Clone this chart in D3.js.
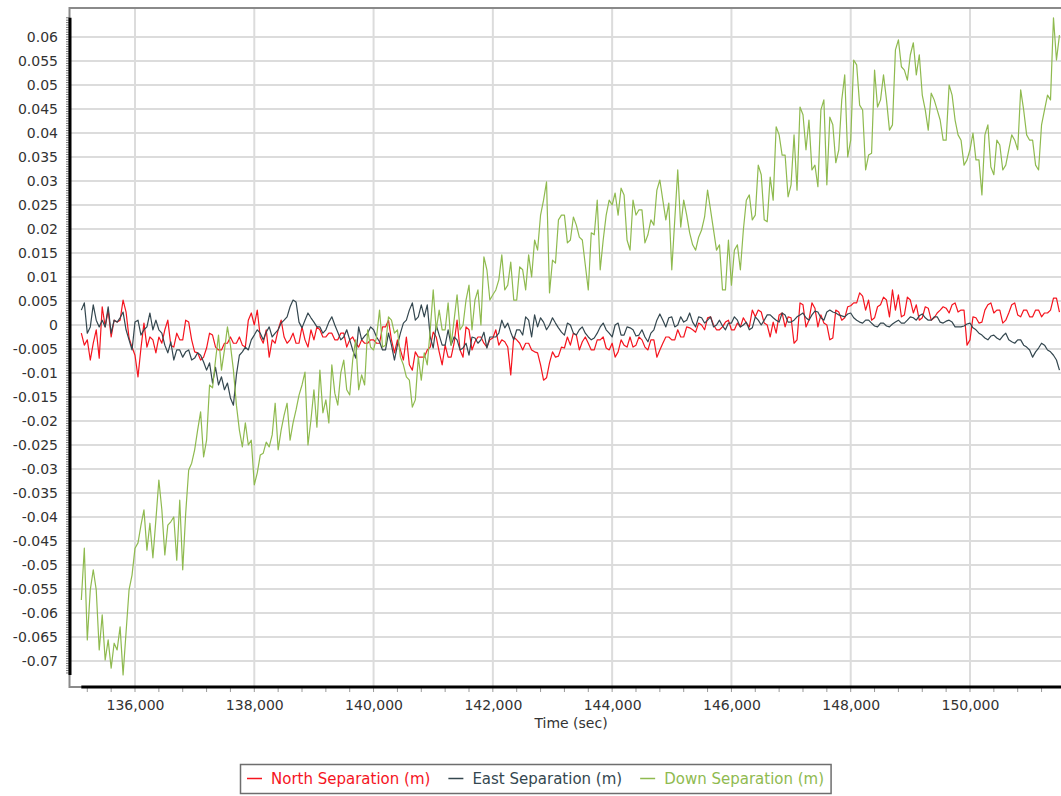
<!DOCTYPE html>
<html>
<head>
<meta charset="utf-8">
<script src="https://cdn.jsdelivr.net/npm/d3@7"></script>
<style>
body { margin: 0; background: #fff; }
svg { display: block; font-family: "DejaVu Sans", Verdana, sans-serif; }
</style>
</head>
<body>
<svg width="1061" height="796"></svg>
<script>
// samples on the hundreds (135,100 .. 151,500) and on the fifties (135,150 .. 151,450)
var startTime = 135100,
    stepTime = 100;

var northSep = [
    -0.0017,-0.0031,-0.0038,-0.0069,-0.0004,-0.0025,0.0006,0.0052,-0.0027,-0.0063,
    -0.0048,-0.0046,-0.0031,-0.0025,-0.0010,-0.0042,-0.0017,-0.0031,0.0006,-0.0056,
    -0.0073,-0.0048,-0.0021,-0.0052,-0.0038,-0.0025,-0.0038,-0.0042,0.0010,0.0000,
    -0.0025,-0.0010,-0.0031,-0.0010,-0.0025,-0.0031,-0.0038,-0.0004,-0.0046,-0.0031,
    -0.0010,-0.0025,-0.0017,-0.0031,-0.0017,-0.0031,-0.0038,-0.0031,-0.0038,-0.0031,
    -0.0038,-0.0004,-0.0031,-0.0031,-0.0073,-0.0083,-0.0056,-0.0067,-0.0052,-0.0015,
    -0.0056,-0.0042,-0.0067,0.0010,-0.0067,-0.0010,-0.0035,-0.0025,-0.0046,-0.0027,
    -0.0042,-0.0035,-0.0104,-0.0031,-0.0052,-0.0038,-0.0056,-0.0083,-0.0110,-0.0056,
    -0.0065,-0.0048,-0.0042,-0.0021,-0.0035,-0.0038,-0.0052,-0.0031,-0.0048,-0.0038,
    -0.0056,-0.0042,-0.0025,-0.0042,-0.0031,-0.0052,-0.0031,-0.0052,-0.0025,-0.0031,
    -0.0010,-0.0025,-0.0006,-0.0015,0.0000,0.0015,0.0000,-0.0010,0.0006,-0.0010,
    0.0004,0.0015,-0.0004,0.0017,0.0027,0.0000,0.0006,0.0021,-0.0004,0.0015,
    -0.0031,0.0042,0.0010,0.0035,0.0021,0.0000,-0.0027,0.0027,0.0015,0.0040,
    0.0046,0.0060,0.0052,0.0015,0.0042,0.0052,0.0073,0.0063,0.0021,0.0052,
    0.0042,0.0015,0.0035,0.0015,0.0031,0.0035,0.0042,0.0027,0.0031,-0.0031,
    0.0015,0.0006,0.0042,0.0025,0.0031,0.0010,0.0042,0.0021,0.0031,0.0017,
    0.0031,0.0017,0.0025,0.0056,0.0027
];
var northSepMid = [
    -0.0042,-0.0073,-0.0010,0.0038,0.0031,0.0010,0.0010,0.0027,-0.0046,-0.0108,
    0.0004,-0.0025,-0.0058,-0.0038,0.0010,-0.0046,-0.0031,0.0010,-0.0031,-0.0058,
    -0.0067,-0.0017,-0.0046,-0.0052,-0.0038,-0.0038,-0.0025,-0.0046,0.0025,0.0031,
    -0.0038,-0.0067,-0.0038,0.0010,-0.0038,-0.0017,-0.0038,-0.0031,-0.0010,-0.0004,
    -0.0025,-0.0017,-0.0031,-0.0017,-0.0046,-0.0025,-0.0046,-0.0038,-0.0031,-0.0038,
    -0.0004,0.0010,-0.0058,-0.0052,-0.0025,-0.0094,-0.0067,-0.0067,-0.0046,-0.0025,
    -0.0083,-0.0067,-0.0038,-0.0052,-0.0004,-0.0052,-0.0025,-0.0038,-0.0031,-0.0010,
    -0.0031,-0.0046,-0.0025,-0.0038,-0.0038,-0.0052,-0.0058,-0.0115,-0.0079,-0.0067,
    -0.0046,-0.0025,-0.0017,-0.0052,-0.0025,-0.0052,-0.0031,-0.0025,-0.0052,-0.0067,
    -0.0031,-0.0046,-0.0046,-0.0025,-0.0046,-0.0031,-0.0067,-0.0038,-0.0025,-0.0031,
    -0.0025,-0.0004,-0.0010,0.0004,-0.0010,0.0017,-0.0010,-0.0004,0.0010,-0.0010,
    -0.0004,0.0004,0.0031,0.0031,0.0004,-0.0025,-0.0017,0.0025,0.0017,-0.0038,
    0.0046,-0.0004,0.0046,-0.0004,0.0004,-0.0031,0.0031,0.0010,0.0038,0.0046,
    0.0067,0.0031,0.0010,0.0038,0.0058,0.0017,0.0031,0.0017,0.0058,0.0025,
    0.0010,0.0038,0.0010,0.0025,0.0038,0.0025,0.0046,0.0031,-0.0042,0.0017,
    0.0004,0.0031,0.0046,0.0031,0.0004,0.0025,0.0046,0.0017,0.0031,0.0017,
    0.0031,0.0025,0.0031,0.0056
];

var eastSep = [
    0.0031,-0.0017,0.0042,-0.0004,-0.0004,-0.0017,0.0006,0.0027,-0.0031,0.0006,
    -0.0021,-0.0004,-0.0010,-0.0010,-0.0042,-0.0035,-0.0052,-0.0067,-0.0052,-0.0069,
    -0.0063,-0.0094,-0.0121,-0.0125,-0.0135,-0.0152,-0.0104,-0.0056,-0.0052,-0.0021,
    -0.0017,-0.0015,-0.0025,-0.0010,0.0010,0.0038,0.0048,-0.0006,0.0025,0.0006,
    -0.0004,-0.0010,0.0017,-0.0015,-0.0025,-0.0031,-0.0069,-0.0031,-0.0017,-0.0010,
    -0.0035,-0.0052,-0.0042,-0.0042,0.0004,0.0031,0.0010,0.0042,0.0042,-0.0048,
    -0.0021,-0.0042,-0.0042,-0.0031,-0.0048,-0.0063,-0.0027,-0.0031,-0.0048,-0.0025,
    -0.0017,-0.0006,-0.0015,-0.0010,-0.0021,0.0010,0.0021,0.0015,-0.0010,0.0015,
    -0.0006,-0.0021,0.0000,-0.0021,-0.0004,-0.0025,-0.0027,-0.0004,-0.0010,-0.0025,
    0.0004,-0.0021,-0.0006,-0.0023,-0.0010,-0.0035,-0.0010,0.0023,-0.0004,0.0017,
    0.0000,0.0006,0.0025,-0.0004,0.0015,0.0010,-0.0004,0.0010,-0.0010,0.0004,
    0.0010,0.0000,-0.0010,0.0017,0.0000,0.0021,0.0015,0.0006,0.0021,0.0006,
    0.0017,0.0025,0.0010,0.0029,0.0015,0.0027,0.0027,0.0021,0.0017,0.0025,
    0.0010,0.0004,0.0010,-0.0002,0.0004,-0.0002,0.0002,0.0010,0.0004,0.0017,
    0.0010,0.0023,0.0010,0.0017,0.0006,0.0008,0.0006,-0.0004,-0.0002,0.0004,
    -0.0010,-0.0021,-0.0031,-0.0021,-0.0031,-0.0017,-0.0035,-0.0031,-0.0042,-0.0052,
    -0.0056,-0.0038,-0.0052,-0.0063,-0.0094
];
var eastSepMid = [
    0.0046,-0.0004,0.0010,0.0010,0.0038,0.0010,0.0015,-0.0010,-0.0052,0.0010,
    -0.0010,0.0025,0.0010,-0.0017,-0.0058,-0.0073,-0.0052,-0.0056,-0.0073,-0.0058,
    -0.0077,-0.0079,-0.0088,-0.0108,-0.0121,-0.0167,-0.0063,-0.0046,-0.0031,-0.0010,
    -0.0031,-0.0004,-0.0017,0.0004,0.0017,0.0052,0.0006,0.0010,0.0015,-0.0004,
    -0.0017,0.0006,0.0000,-0.0031,-0.0010,-0.0052,-0.0004,-0.0023,-0.0004,-0.0025,
    -0.0052,-0.0017,-0.0073,-0.0017,0.0010,0.0046,0.0017,0.0017,-0.0025,0.0000,
    -0.0042,-0.0010,-0.0025,-0.0052,-0.0038,-0.0025,-0.0038,-0.0015,-0.0025,-0.0025,
    0.0010,0.0004,-0.0031,-0.0010,0.0017,-0.0025,-0.0004,0.0006,0.0000,0.0004,
    -0.0015,0.0004,-0.0017,-0.0010,-0.0017,-0.0031,-0.0017,0.0004,-0.0017,0.0000,
    -0.0021,-0.0004,-0.0010,-0.0021,-0.0025,-0.0017,0.0010,0.0010,0.0015,-0.0004,
    0.0017,0.0010,0.0006,0.0017,0.0004,0.0017,0.0000,-0.0002,0.0004,0.0017,
    -0.0004,0.0006,-0.0006,0.0010,0.0010,0.0021,0.0010,0.0025,0.0006,0.0010,
    0.0021,0.0015,0.0021,0.0027,0.0010,0.0031,0.0025,0.0019,0.0023,0.0015,
    0.0006,0.0010,0.0004,-0.0004,0.0004,-0.0004,0.0006,0.0004,0.0010,0.0015,
    0.0019,0.0015,0.0010,0.0017,0.0004,0.0010,-0.0004,-0.0004,0.0002,-0.0006,
    -0.0017,-0.0027,-0.0023,-0.0027,-0.0023,-0.0031,-0.0038,-0.0031,-0.0046,-0.0067,
    -0.0048,-0.0042,-0.0056,-0.0073
];

var downSep = [
    -0.0573,-0.0656,-0.0510,-0.0677,-0.0698,-0.0715,-0.0677,-0.0729,-0.0552,-0.0465,
    -0.0417,-0.0469,-0.0485,-0.0323,-0.0479,-0.0410,-0.0490,-0.0510,-0.0302,-0.0260,
    -0.0181,-0.0240,-0.0131,-0.0021,-0.0052,-0.0042,-0.0167,-0.0254,-0.0250,-0.0333,
    -0.0271,-0.0244,-0.0229,-0.0260,-0.0188,-0.0240,-0.0177,-0.0125,-0.0250,-0.0135,
    -0.0094,-0.0156,-0.0083,-0.0167,-0.0073,-0.0146,-0.0031,-0.0104,-0.0010,-0.0052,
    0.0031,-0.0042,0.0010,-0.0010,-0.0083,-0.0115,-0.0156,-0.0115,-0.0083,0.0073,
    0.0031,-0.0010,-0.0042,0.0063,0.0000,0.0083,0.0052,0.0000,0.0115,0.0063,
    0.0094,0.0073,0.0131,0.0052,0.0115,0.0146,0.0177,0.0229,0.0298,0.0135,
    0.0219,0.0229,0.0177,0.0208,0.0177,0.0073,0.0188,0.0115,0.0229,0.0250,
    0.0229,0.0271,0.0156,0.0229,0.0240,0.0188,0.0208,0.0302,0.0219,0.0115,
    0.0323,0.0260,0.0192,0.0156,0.0198,0.0281,0.0198,0.0167,0.0073,0.0083,
    0.0167,0.0198,0.0271,0.0229,0.0313,0.0215,0.0260,0.0396,0.0354,0.0292,
    0.0281,0.0438,0.0427,0.0333,0.0448,0.0292,0.0417,0.0365,0.0521,0.0385,
    0.0542,0.0448,0.0354,0.0531,0.0469,0.0469,0.0417,0.0594,0.0531,0.0563,
    0.0521,0.0479,0.0406,0.0469,0.0427,0.0385,0.0479,0.0396,0.0333,0.0365,
    0.0344,0.0271,0.0417,0.0313,0.0375,0.0333,0.0396,0.0365,0.0448,0.0385,
    0.0333,0.0417,0.0479,0.0640,0.0604
];
var downSepMid = [
    -0.0465,-0.0552,-0.0552,-0.0604,-0.0656,-0.0663,-0.0629,-0.0640,-0.0521,-0.0454,
    -0.0385,-0.0413,-0.0406,-0.0385,-0.0417,-0.0400,-0.0365,-0.0392,-0.0288,-0.0219,
    -0.0275,-0.0125,-0.0073,-0.0094,-0.0004,-0.0094,-0.0219,-0.0204,-0.0240,-0.0308,
    -0.0267,-0.0254,-0.0163,-0.0219,-0.0163,-0.0204,-0.0146,-0.0098,-0.0198,-0.0213,
    -0.0183,-0.0204,-0.0142,-0.0100,-0.0135,-0.0073,-0.0135,-0.0125,-0.0046,-0.0025,
    -0.0046,0.0017,-0.0017,-0.0067,-0.0108,-0.0171,-0.0067,-0.0058,-0.0010,-0.0010,
    -0.0010,0.0046,0.0010,-0.0010,0.0052,-0.0010,0.0073,0.0142,0.0052,0.0073,
    0.0146,0.0083,0.0052,0.0121,0.0073,0.0100,0.0156,0.0260,0.0067,0.0129,
    0.0229,0.0171,0.0225,0.0183,0.0125,0.0192,0.0260,0.0177,0.0260,0.0275,
    0.0285,0.0177,0.0260,0.0240,0.0171,0.0219,0.0281,0.0260,0.0254,0.0219,
    0.0204,0.0229,0.0167,0.0183,0.0225,0.0240,0.0156,0.0073,0.0177,0.0156,
    0.0115,0.0260,0.0219,0.0333,0.0219,0.0308,0.0413,0.0354,0.0267,0.0396,
    0.0454,0.0365,0.0323,0.0288,0.0469,0.0433,0.0338,0.0469,0.0350,0.0552,
    0.0458,0.0323,0.0358,0.0454,0.0521,0.0406,0.0573,0.0538,0.0510,0.0588,
    0.0563,0.0448,0.0483,0.0448,0.0385,0.0500,0.0427,0.0385,0.0344,0.0400,
    0.0344,0.0396,0.0329,0.0385,0.0323,0.0365,0.0385,0.0490,0.0396,0.0385,
    0.0323,0.0448,0.0469,0.0552
];

var seriesNames = ["North Separation (m)", "East Separation (m)", "Down Separation (m)"];
var seriesColors = ["#f5141e", "#34474f", "#8fba4f"];
var seriesValues = [[northSep, northSepMid], [eastSep, eastSepMid], [downSep, downSepMid]];

var xMajorTicks = d3.range(136000, 150001, 2000);
var xMinorTicks = d3.range(135200, 151600, 400);
var yMajorTicks = d3.range(-14, 13).map(function(k) { return +(k * 0.005).toFixed(3); });
var yMinorTicks = d3.range(-150, 132).map(function(k) { return k * 0.0005; });

var svg = d3.select("svg"),
    plotLeft = 70, plotTop = 8, plotRight = 1061, plotBottom = 687;

var x = d3.scaleLinear().domain([134910, 151526]).range([plotLeft, plotRight]);
var y = d3.scaleLinear().domain([-0.07542, 0.06604]).range([plotBottom, plotTop]);

// put the two sample sets of a series together in time order
function toPoints(pair) {
    var a = pair[0].map(function(v, i) { return [startTime + i * stepTime, v]; });
    var b = pair[1].map(function(v, i) { return [startTime + stepTime / 2 + i * stepTime, v]; });
    return a.concat(b).sort(function(p, q) { return p[0] - q[0]; });
}
var seriesPoints = seriesValues.map(toPoints);

svg.append("defs").append("clipPath")
    .attr("id", "plotclip")
    .append("rect")
    .attr("x", plotLeft).attr("y", plotTop)
    .attr("width", plotRight - plotLeft).attr("height", plotBottom - plotTop);

// grid
var grid = svg.append("g").attr("class", "grid");
grid.selectAll("line.h")
    .data(yMajorTicks)
    .enter().append("line")
    .attr("x1", plotLeft).attr("x2", plotRight)
    .attr("y1", function(d) { return y(d); })
    .attr("y2", function(d) { return y(d); })
    .style("stroke", "#dcdcdc")
    .style("stroke-width", 2);
grid.selectAll("line.v")
    .data(xMajorTicks)
    .enter().append("line")
    .attr("x1", function(d) { return x(d); })
    .attr("x2", function(d) { return x(d); })
    .attr("y1", plotTop).attr("y2", plotBottom)
    .style("stroke", "#dcdcdc")
    .style("stroke-width", 2);

// frame
svg.append("path")
    .attr("d", "M" + plotRight + "," + plotTop + "H" + (plotLeft - 0.5) + "V" + plotBottom + "H" + plotRight)
    .style("fill", "none")
    .style("stroke", "#8a8a8a")
    .style("stroke-width", 2);

// data lines
var line = d3.line()
    .x(function(d) { return x(d[0]); })
    .y(function(d) { return y(d[1]); });

var lines = svg.append("g").attr("clip-path", "url(#plotclip)");
seriesPoints.forEach(function(pts, k) {
    lines.append("path")
        .datum(pts)
        .attr("d", line)
        .style("fill", "none")
        .style("stroke", seriesColors[k])
        .style("stroke-width", 1.2)
        .style("stroke-linejoin", "round");
});

// axis lines span the data range
var allPoints = d3.merge(seriesPoints);
var ext = d3.extent(allPoints, function(d) { return d[1]; });
var firstTime = d3.min(allPoints, function(d) { return d[0]; });

svg.append("g")
    .selectAll("line")
    .data(yMinorTicks.filter(function(d) { return d >= ext[0] && d <= ext[1]; }))
    .enter().append("line")
    .attr("x1", plotLeft - 4).attr("x2", plotLeft)
    .attr("y1", function(d) { return y(d); })
    .attr("y2", function(d) { return y(d); })
    .style("stroke", "#777")
    .style("stroke-width", 1);

svg.append("line")
    .attr("x1", plotLeft).attr("x2", plotLeft)
    .attr("y1", y(ext[1])).attr("y2", y(ext[0]))
    .style("stroke", "#000")
    .style("stroke-width", 3);

svg.append("g")
    .selectAll("line")
    .data(xMinorTicks)
    .enter().append("line")
    .attr("x1", function(d) { return x(d); })
    .attr("x2", function(d) { return x(d); })
    .attr("y1", plotBottom).attr("y2", plotBottom + 5)
    .style("stroke", "#999")
    .style("stroke-width", 1);

svg.append("line")
    .attr("x1", x(firstTime)).attr("x2", plotRight)
    .attr("y1", plotBottom).attr("y2", plotBottom)
    .style("stroke", "#000")
    .style("stroke-width", 3);

// tick labels
var yAxis = svg.append("g")
    .attr("transform", "translate(" + plotLeft + ",0)")
    .call(d3.axisLeft(y)
        .tickValues(yMajorTicks)
        .tickSize(0)
        .tickPadding(12)
        .tickFormat(function(d) { return String(+d.toFixed(3)); }));
yAxis.select(".domain").remove();
yAxis.selectAll("text")
    .style("font-family", "'DejaVu Sans', Verdana, sans-serif")
    .style("font-size", "14px")
    .style("fill", "#333");

var xAxis = svg.append("g")
    .attr("transform", "translate(0," + plotBottom + ")")
    .call(d3.axisBottom(x)
        .tickValues(xMajorTicks)
        .tickSize(0)
        .tickPadding(13)
        .tickFormat(d3.format(",")));
xAxis.select(".domain").remove();
xAxis.selectAll("text")
    .style("font-family", "'DejaVu Sans', Verdana, sans-serif")
    .style("font-size", "14px")
    .style("fill", "#333");

svg.append("text")
    .attr("x", 571)
    .attr("y", 728)
    .style("text-anchor", "middle")
    .style("font-size", "14px")
    .style("fill", "#333")
    .text("Time (sec)");

// legend
var legend = svg.append("g");
var legendBox = legend.append("rect")
    .attr("x", 240.5).attr("y", 764.5)
    .attr("height", 29)
    .style("fill", "#fff")
    .style("stroke", "#6e6e6e")
    .style("stroke-width", 1.5);

var lx = 247;
seriesNames.forEach(function(name, k) {
    legend.append("line")
        .attr("x1", lx).attr("x2", lx + 15)
        .attr("y1", 778.5).attr("y2", 778.5)
        .style("stroke", seriesColors[k])
        .style("stroke-width", 1.5);
    var t = legend.append("text")
        .attr("x", lx + 24)
        .attr("y", 784)
        .style("font-size", "15px")
        .style("fill", seriesColors[k])
        .text(name);
    lx = lx + 24 + t.node().getComputedTextLength() + 18;
});
legendBox.attr("width", lx - 18 + 7 - 240.5);
</script>
</body>
</html>
